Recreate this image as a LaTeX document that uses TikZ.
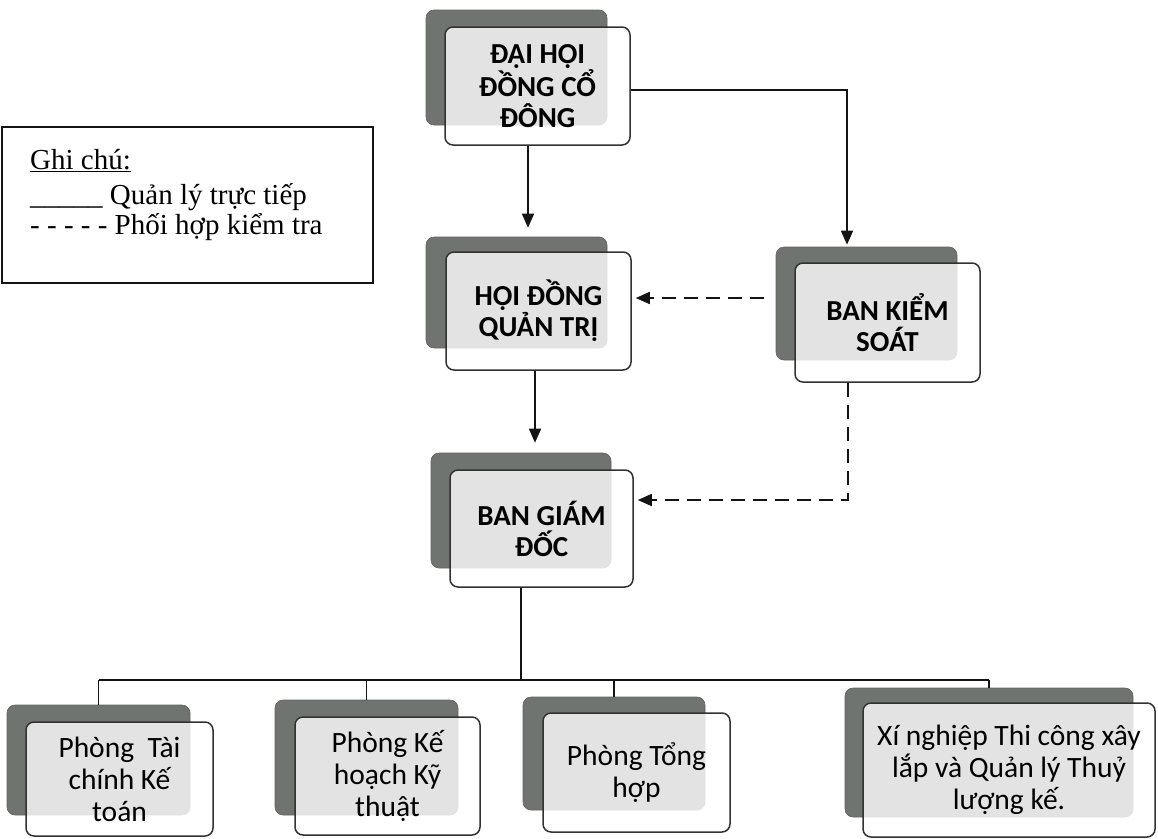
\documentclass[tikz,border=0pt]{standalone}
\usepackage{fontspec}
\setmainfont{Liberation Serif}
\newfontfamily\boxfont{Carlito}
\usetikzlibrary{arrows.meta}
\definecolor{backgray}{RGB}{112,116,113}
\definecolor{edgegray}{RGB}{50,50,50}
\definecolor{inkc}{RGB}{20,20,20}
\definecolor{frontfill}{RGB}{255,255,255}
\tikzset{
  backbox/.style={fill=backgray, draw=backgray!85!black, line width=0.6pt, rounded corners=8pt, inner sep=0pt},
  frontbox/.style={draw=edgegray, line width=1.5pt, fill=frontfill, fill opacity=0.8, text opacity=1,
    rounded corners=8pt, inner sep=0pt, align=center, text=black},
  boldtxt/.style={font=\boxfont\bfseries\fontsize{29}{31}\selectfont},
  regtxt/.style={font=\boxfont\fontsize{29.5}{32}\selectfont},
  link/.style={draw=inkc, line width=1.6pt},
  solidarrow/.style={link, -{Triangle[length=14pt,width=12pt]}},
  dasharrow/.style={link, dash pattern=on 14pt off 8pt, -{Triangle[length=14pt,width=12pt]}},
  legtxt/.style={anchor=base west, inner sep=0pt, font=\fontsize{29}{32}\selectfont},
}
\begin{document}
\begin{tikzpicture}[x=1pt,y=-1pt]
\useasboundingbox (0,0) rectangle (1158,838);

% legend
\node[draw=inkc, line width=1.5pt, minimum width=371pt, minimum height=156pt, inner sep=0pt] (legend) at (187.5,205) {};
\node[legtxt] (lg1) at (30,169) {\underline{Ghi chú:}};
\node[legtxt] (lg2) at (30,204) {\_\_\_\_\_ Quản lý trực tiếp};
\node[legtxt] (lg3) at (30,234) {- - - - - Phối hợp kiểm tra};

% back boxes
\node[backbox, minimum width=181pt, minimum height=115pt] (b1) at (516.5,67.5) {};
\node[backbox, minimum width=181pt, minimum height=111pt] (b2) at (516.5,292.5) {};
\node[backbox, minimum width=181pt, minimum height=113pt] (b3) at (866.5,303.5) {};
\node[backbox, minimum width=180pt, minimum height=115pt] (b4) at (521,510.5) {};
\node[backbox, minimum width=183pt, minimum height=110pt] (bA) at (98.5,760) {};
\node[backbox, minimum width=183pt, minimum height=115pt] (bB) at (366.5,757.5) {};
\node[backbox, minimum width=182pt, minimum height=113pt] (bC) at (614,753.5) {};
\node[backbox, minimum width=288pt, minimum height=129pt] (bD) at (989,752.5) {};

% front boxes
\node[frontbox, boldtxt, minimum width=185pt, minimum height=118pt] (f1) at (537.5,86) {ĐẠI HỘI\\ĐỒNG CỔ\\ĐÔNG};
\node[frontbox, boldtxt, minimum width=185pt, minimum height=118pt] (f2) at (538.5,311) {HỘI ĐỒNG\\QUẢN TRỊ};
\node[frontbox, boldtxt, minimum width=185pt, minimum height=119pt] (f3) at (887.5,322.5) {BAN KIỂM\\SOÁT};
\node[frontbox, boldtxt, minimum width=183pt, minimum height=117pt] (f4) at (541.5,528.5) {BAN GIÁM\\ĐỐC};
\node[frontbox, regtxt, minimum width=187pt, minimum height=114pt] (fA) at (119.5,779) {Phòng~ Tài\\chính Kế\\toán};
\node[frontbox, regtxt, minimum width=185pt, minimum height=118pt] (fB) at (387.5,776) {Phòng Kế\\hoạch Kỹ\\thuật};
\node[frontbox, regtxt, minimum width=187pt, minimum height=119pt] (fC) at (636.5,772.5) {Phòng Tổng\\hợp};
\node[frontbox, regtxt, minimum width=292pt, minimum height=134pt] (fD) at (1009,770) {Xí nghiệp Thi công xây\\lắp và Quản lý Thuỷ\\lượng kế.};

% helper coordinates
\coordinate (xa) at (528,0);
\coordinate (xb) at (847,0);
\coordinate (xd) at (535,0);
\coordinate (xe) at (848,0);
\coordinate (ya) at (0,90);
\coordinate (yc) at (0,298);
\coordinate (ye) at (0,500);
\coordinate (ty) at (0,680);

% connectors
\draw[solidarrow, shorten >=9pt] (f1.south -| xa) -- (b2.north -| xa);
\draw[solidarrow, shorten >=2pt] (f1.east |- ya) -| (b3.north -| xb);
\draw[dasharrow, shorten <=12pt, shorten >=4pt] (b3.west |- yc) -- (f2.east |- yc);
\draw[solidarrow, shorten >=10pt] (f2.south -| xd) -- (b4.north -| xd);
\draw[dasharrow, shorten >=4pt] (f3.south -| xe) |- (f4.east |- ye);

% tree
\draw[link] (f4.south -| b4) -- (ty -| b4);
\draw[link] (ty -| bA) -- (ty -| bD);
\draw[link] (ty -| bA) -- (bA.north);
\draw[link] (ty -| bB) -- (bB.north);
\draw[link] (ty -| bC) -- (bC.north);
\draw[link] (ty -| bD) -- (bD.north);
\end{tikzpicture}
\end{document}
